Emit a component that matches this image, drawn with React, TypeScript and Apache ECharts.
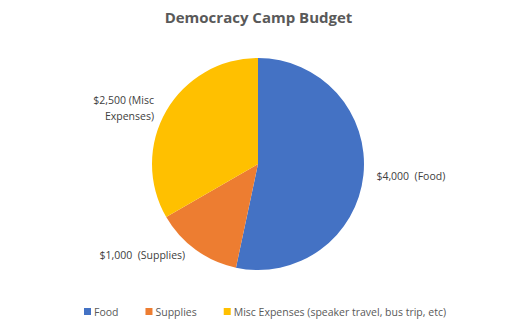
import React, { useEffect, useRef } from "react";
import * as echarts from "echarts";

const categories = ["Food", "Supplies", "Misc Expenses (speaker travel, bus trip, etc)"];
const values = [4000, 1000, 2500];
const labelTexts = ["$4,000  (Food)", "$1,000  (Supplies)", "$2,500 (Misc\nExpenses)"];
const colors = ["#4472C4", "#ED7D31", "#FFC000"];

export default function App() {
  const ref = useRef<HTMLDivElement>(null);
  useEffect(() => {
    const chart = echarts.init(ref.current!, null, { renderer: "svg" });
    const font = "Open Sans, Liberation Sans, sans-serif";
    chart.setOption({
      animation: false,
      backgroundColor: "#ffffff",
      title: {
        text: "Democracy Camp Budget",
        left: "center",
        top: 4,
        textStyle: { fontFamily: font, fontSize: 15, fontWeight: "bold", color: "#595959" },
      },
      legend: {
        bottom: 6,
        left: 79,
        icon: "rect",
        itemWidth: 7,
        itemHeight: 7,
        itemGap: 27,
        itemStyle: { borderWidth: 0 },
        textStyle: { fontFamily: font, fontSize: 10.5, color: "#595959", padding: [0, 0, 0, -2] },
        data: categories,
      },
      series: [
        {
          type: "pie",
          center: [258, 164],
          radius: 106,
          startAngle: 90,
          clockwise: true,
          color: colors,
          label: {
            show: true,
            position: "outside",
            formatter: (p: any) => labelTexts[p.dataIndex],
            fontFamily: font,
            fontSize: 10.5,
            color: "#404040",
            lineHeight: 16,
            align: "center",
          },
          labelLine: { show: false, length: 6, length2: 2 },
          data: categories.map((c, i) => ({ name: c, value: values[i] })),
        },
      ],
    });
    return () => chart.dispose();
  }, []);
  return <div ref={ref} style={{ position: "fixed", left: 0, top: 0, width: 517, height: 328 }} />;
}
